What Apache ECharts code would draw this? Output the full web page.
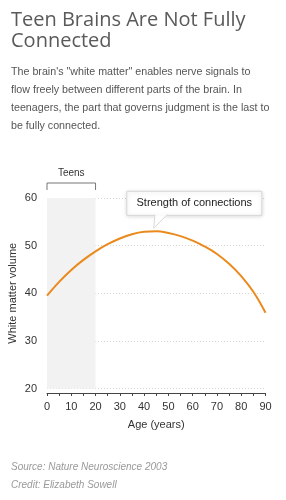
<!DOCTYPE html>
<html>
<head>
<meta charset="utf-8">
<script src="https://cdn.jsdelivr.net/npm/echarts@6/dist/echarts.min.js"></script>
<style>
html,body{margin:0;padding:0;background:#fff;}
#c{width:286px;height:500px;}
</style>
</head>
<body>
<div id="c"></div>
<script>
// ---- data ----
var ages = [0, 5, 10, 15, 20, 25, 30, 35, 40, 45, 50, 55, 60, 65, 70, 75, 80, 85, 90];
var whiteMatter = [39.5, 42.4, 44.9, 47.0, 48.8, 50.3, 51.5, 52.4, 52.9, 53.0, 52.65, 52.0, 51.05, 49.8, 48.25, 46.2, 43.6, 40.3, 35.9];
var xTicks = [0, 10, 20, 30, 40, 50, 60, 70, 80, 90];
var yTicks = [20, 30, 40, 50, 60];
var teensRange = [0, 20];
var calloutPoint = [44, 53];
var titleText = 'Teen Brains Are Not Fully\nConnected';
var introText = 'The brain\'s "white matter" enables nerve signals to\nflow freely between different parts of the brain. In\nteenagers, the part that governs judgment is the last to\nbe fully connected.';
var sourceText = 'Source: Nature Neuroscience 2003\nCredit: Elizabeth Sowell';
var calloutText = 'Strength of connections';
var teensText = 'Teens';

var seriesData = ages.map(function (a, i) { return [a, whiteMatter[i]]; });

var chart = echarts.init(document.getElementById('c'), null, {renderer: 'canvas'});
var option = {
  animation: false,
  title: [
    {text: titleText, left: 6, top: 5,
     textStyle: {fontFamily: 'Open Sans', fontSize: 20, fontWeight: 'normal', color: '#5a5a5a', lineHeight: 21}},
    {text: introText, left: 6, top: 58,
     textStyle: {fontFamily: 'Liberation Sans', fontSize: 10.7, fontWeight: 'normal', color: '#555', lineHeight: 18}},
    {text: sourceText, left: 6, top: 453.5,
     textStyle: {fontFamily: 'Liberation Sans', fontSize: 10, fontStyle: 'italic', fontWeight: 'normal', color: '#999', lineHeight: 17.5}}
  ],
  grid: {left: 47, right: 20.5, top: 198, bottom: 111.5, containLabel: false, outerBoundsMode: 'none'},
  xAxis: {
    type: 'value', min: 0, max: 90, interval: 10, offset: 4.5,
    name: 'Age (years)', nameLocation: 'middle', nameGap: 26,
    nameTextStyle: {fontFamily: 'Liberation Sans', fontSize: 11, color: '#333'},
    axisLine: {show: true, lineStyle: {color: '#444', width: 1}},
    axisTick: {show: true, length: 3, inside: false, lineStyle: {color: '#444'}},
    minorTick: {show: true, splitNumber: 2, length: 3, lineStyle: {color: '#444'}},
    axisLabel: {fontFamily: 'Liberation Sans', fontSize: 11, color: '#333', margin: 8,
      formatter: function (v) { return xTicks.indexOf(v) >= 0 ? String(v) : ''; }},
    splitLine: {show: false}
  },
  yAxis: {
    type: 'value', min: 20, max: 60, interval: 10,
    name: 'White matter volume', nameLocation: 'middle', nameGap: 29, nameMoveOverlap: false,
    nameTextStyle: {fontFamily: 'Liberation Sans', fontSize: 11, color: '#333'},
    axisLine: {show: false}, axisTick: {show: false},
    axisLabel: {fontFamily: 'Liberation Sans', fontSize: 11, color: '#333', margin: 10,
      formatter: function (v) { return yTicks.indexOf(v) >= 0 ? String(v) : ''; }},
    splitLine: {show: true, lineStyle: {color: '#d6d6d6', type: [1, 2], width: 1}}
  },
  series: [{
    type: 'line', data: seriesData, smooth: 0.4, showSymbol: false,
    lineStyle: {color: '#EA8A1C', width: 2},
    z: 5,
    markArea: {
      silent: true,
      itemStyle: {color: '#f2f2f2'},
      data: [[{xAxis: teensRange[0], yAxis: 20}, {xAxis: teensRange[1], yAxis: 60}]]
    }
  }]
};
chart.setOption(option);

// annotations positioned from data coordinates
var tip = chart.convertToPixel({gridIndex: 0}, calloutPoint);
var tL = chart.convertToPixel({gridIndex: 0}, [teensRange[0], 60]);
var tR = chart.convertToPixel({gridIndex: 0}, [teensRange[1], 60]);
var boxL = tip[0] - 27, boxT = tip[1] - 40, boxW = 135, boxH = 24;
chart.setOption({
  graphic: [
    {type: 'polyline', shape: {points: [[tL[0], tL[1] - 8], [tL[0], tL[1] - 15], [tR[0], tR[1] - 15], [tR[0], tR[1] - 8]]},
     style: {stroke: '#777', lineWidth: 1, fill: null}},
    {type: 'text', x: (tL[0] + tR[0]) / 2, y: tL[1] - 25,
     style: {text: teensText, fontFamily: 'Liberation Sans', fontSize: 10, fill: '#333', align: 'center', verticalAlign: 'middle'}},
    {type: 'rect', shape: {x: boxL, y: boxT, width: boxW, height: boxH},
     style: {fill: '#fff', stroke: '#d8d8d8', lineWidth: 1, shadowBlur: 4, shadowColor: 'rgba(0,0,0,0.15)', shadowOffsetY: 1}, z: 10},
    {type: 'polygon', shape: {points: [[tip[0] + 1, boxT + boxH - 0.5], [tip[0] + 13, boxT + boxH - 0.5], [tip[0], tip[1] - 3]]},
     style: {fill: '#fff', stroke: '#d8d8d8', lineWidth: 1}, z: 11},
    {type: 'line', shape: {x1: tip[0] + 1.5, y1: boxT + boxH - 0.5, x2: tip[0] + 12.5, y2: boxT + boxH - 0.5},
     style: {stroke: '#fff', lineWidth: 1.5}, z: 12},
    {type: 'text', x: boxL + boxW / 2, y: boxT + boxH / 2,
     style: {text: calloutText, fontFamily: 'Liberation Sans', fontSize: 11, fill: '#222', align: 'center', verticalAlign: 'middle'}, z: 13}
  ]
});
</script>
</body>
</html>
